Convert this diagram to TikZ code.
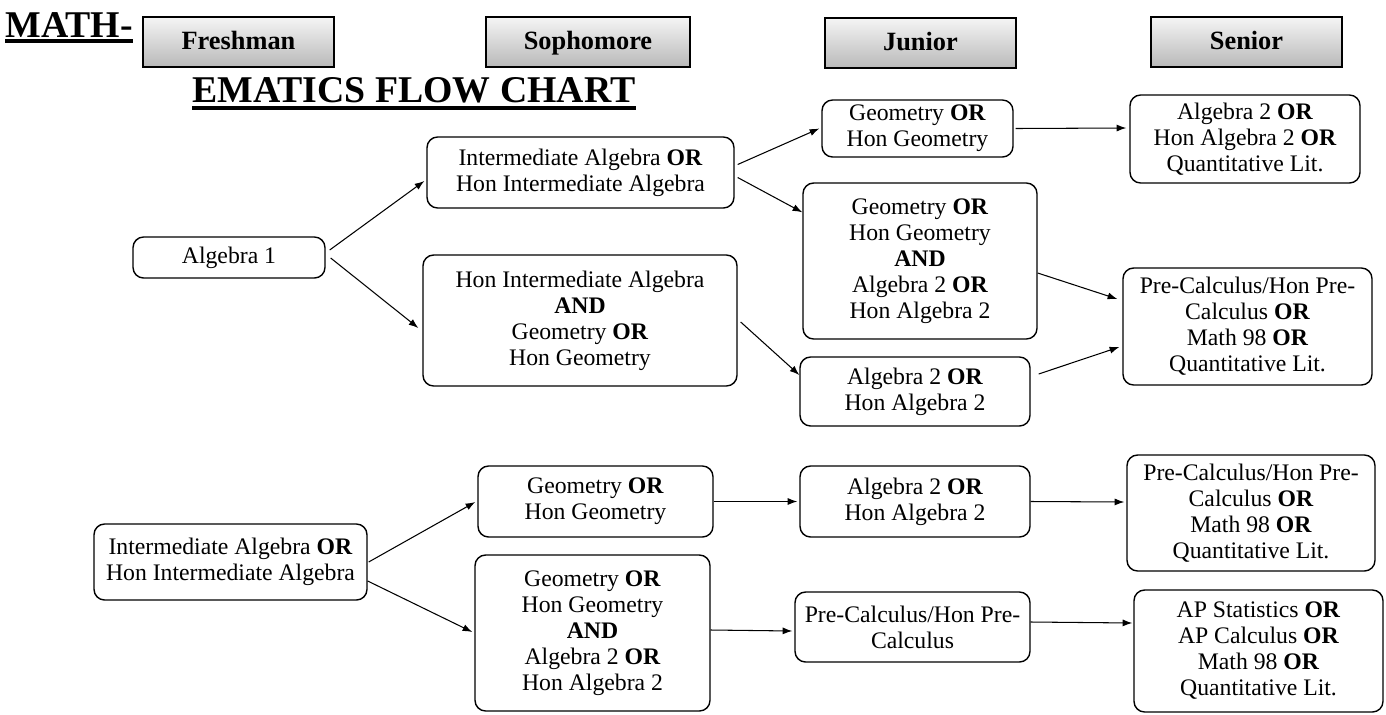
\documentclass[tikz,border=0pt]{standalone}
\usepackage{fontspec}
\setmainfont{Liberation Serif}
\usetikzlibrary{positioning,calc,arrows.meta}

\begin{document}
\begin{tikzpicture}[x=0.02cm,y=-0.02cm,
    course/.style={draw, rounded corners=6pt, line width=0.8pt, align=center, inner sep=0pt,
        font=\fontsize{13.5}{14.8}\selectfont},
    yearbox/.style={draw, line width=0.7pt, top color=gray!8, bottom color=gray!55, inner sep=0pt,
        minimum height=1cm, text height=11pt, text depth=3pt, font=\fontsize{15}{17}\selectfont\bfseries},
    titletext/.style={anchor=base west, inner sep=0pt, font=\fontsize{21.5}{24}\selectfont\bfseries},
    flow/.style={-{Latex[length=5.5pt,width=4pt]}, line width=0.6pt}]
\useasboundingbox (0,0) rectangle (1386,714);

\node[titletext] (math) at (5,37) {MATH-};
\node[titletext] (ematics) at (192,102) {EMATICS FLOW CHART};
\draw[line width=2.3pt] ($(math.base west)+(0,4)$) -- ($(math.base east)+(0,4)$);
\draw[line width=2.3pt] ($(ematics.base west)+(0,6)$) -- ($(ematics.base east)+(0,6)$);

\node[yearbox, minimum width=3.82cm] (fresh) at (238.5,42) {Freshman};
\node[yearbox, minimum width=4.08cm] (soph) at (588,42) {Sophomore};
\node[yearbox, minimum width=3.82cm] (jun) at (920.5,43) {Junior};
\node[yearbox, minimum width=3.82cm] (sen) at (1246.5,42) {Senior};

\node[course, minimum width=3.84cm, minimum height=0.82cm] (alg1) at (229,257.5) {Algebra 1};
\node[course, minimum width=6.14cm, minimum height=1.42cm] (ia1) at (580.5,172.5)
    {Intermediate Algebra \textbf{OR}\\Hon Intermediate Algebra};
\node[course, minimum width=6.28cm, minimum height=2.62cm] (hia) at (580,320.5)
    {Hon Intermediate Algebra\\\textbf{AND}\\Geometry \textbf{OR}\\Hon Geometry};
\node[course, minimum width=3.82cm, minimum height=1.14cm] (geo1) at (917.5,128.5)
    {Geometry \textbf{OR}\\Hon Geometry};
\node[course, minimum width=4.68cm, minimum height=3.12cm] (ga1) at (920,261)
    {Geometry \textbf{OR}\\Hon Geometry\\\textbf{AND}\\Algebra 2 \textbf{OR}\\Hon Algebra 2};
\node[course, minimum width=4.6cm, minimum height=1.38cm] (alg2a) at (915,391.5)
    {Algebra 2 \textbf{OR}\\Hon Algebra 2};
\node[course, minimum width=4.6cm, minimum height=1.76cm] (sen1) at (1245,139)
    {Algebra 2 \textbf{OR}\\Hon Algebra 2 \textbf{OR}\\Quantitative Lit.};
\node[course, minimum width=4.98cm, minimum height=2.34cm] (sen2) at (1247.5,326.5)
    {Pre-Calculus/Hon Pre-\\Calculus \textbf{OR}\\Math 98 \textbf{OR}\\Quantitative Lit.};

\node[course, minimum width=5.46cm, minimum height=1.52cm] (iab) at (230.5,562)
    {Intermediate Algebra \textbf{OR}\\Hon Intermediate Algebra};
\node[course, minimum width=4.7cm, minimum height=1.42cm] (geo2) at (595.5,501.5)
    {Geometry \textbf{OR}\\Hon Geometry};
\node[course, minimum width=4.7cm, minimum height=3.12cm] (ga2) at (592.5,633)
    {Geometry \textbf{OR}\\Hon Geometry\\\textbf{AND}\\Algebra 2 \textbf{OR}\\Hon Algebra 2};
\node[course, minimum width=4.6cm, minimum height=1.42cm] (alg2b) at (915,501.5)
    {Algebra 2 \textbf{OR}\\Hon Algebra 2};
\node[course, minimum width=4.7cm, minimum height=1.4cm] (pc) at (912.5,627)
    {Pre-Calculus/Hon Pre-\\Calculus};
\node[course, minimum width=4.96cm, minimum height=2.32cm] (sen3) at (1251,513)
    {Pre-Calculus/Hon Pre-\\Calculus \textbf{OR}\\Math 98 \textbf{OR}\\Quantitative Lit.};
\node[course, minimum width=4.98cm, minimum height=2.44cm] (sen4) at (1258.5,651)
    {AP Statistics \textbf{OR}\\AP Calculus \textbf{OR}\\Math 98 \textbf{OR}\\Quantitative Lit.};

\path[flow] ($(alg1.east)+(4,-7.5)$) edge ($(ia1.west)+(-2,8.5)$);
\path[flow] ($(alg1.east)+(5,0.5)$) edge ($(hia.west)+(-4,7.5)$);
\path[flow] ($(ia1.east)+(3,-8)$) edge ($(geo1.west)+(-2,0)$);
\path[flow] ($(ia1.east)+(3,5)$) edge ($(ga1.north west)+(0,30)$);
\path[flow] ($(hia.east)+(3,1.5)$) edge ($(alg2a.west)+(0,-16.5)$);
\path[flow] ($(geo1.east)+(2,0)$) edge ($(sen1.west)+(-3,-11)$);
\path[flow] ($(ga1.east)+(0,12)$) edge ($(sen2.west)+(-5,-27.5)$);
\path[flow] ($(alg2a.east)+(8,-17.5)$) edge ($(sen2.west)+(-3,20.5)$);

\path[flow] ($(iab.east)+(1,0)$) edge ($(geo2.west)+(-2,0.5)$);
\path[flow] ($(iab.east)+(0,19)$) edge ($(ga2.west)+(-2,-1)$);
\path[flow] (geo2.east) edge ($(alg2b.west)+(-2,0)$);
\path[flow] (alg2b.east) edge ($(sen3.west)+(-2,-11)$);
\path[flow] ($(ga2.east)+(0,-3)$) edge ($(pc.west)+(-2,4)$);
\path[flow] ($(pc.east)+(0,-5)$) edge ($(sen4.west)+(-1,-28)$);
\end{tikzpicture}
\end{document}
